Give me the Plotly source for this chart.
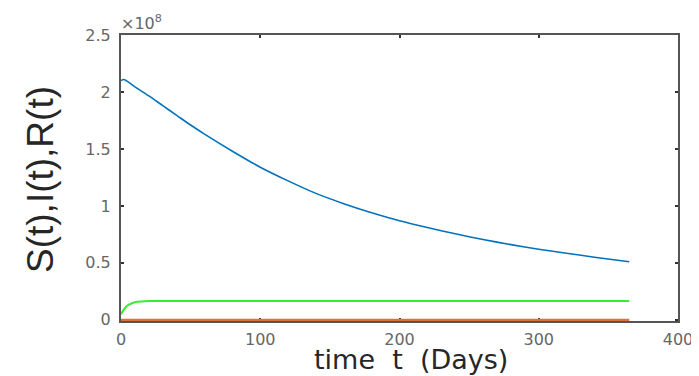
import plotly.graph_objects as go

# Data (values in persons)
t_S = [0, 2, 10, 20, 30, 40, 50, 60, 80, 100, 120, 140, 160, 180, 200, 220, 240, 260, 280, 300, 320, 340, 365]
S_vals = [2.10e8, 2.11e8, 2.045e8, 1.965e8, 1.88e8, 1.795e8, 1.71e8, 1.63e8, 1.48e8, 1.34e8, 1.22e8,
          1.11e8, 1.02e8, 0.94e8, 0.87e8, 0.81e8, 0.755e8, 0.705e8, 0.66e8, 0.62e8, 0.585e8, 0.55e8, 0.51e8]
t_I = [0, 2, 4, 6, 10, 15, 20, 30, 60, 100, 200, 300, 365]
I_vals = [0.05e8, 0.09e8, 0.12e8, 0.135e8, 0.155e8, 0.162e8, 0.165e8, 0.166e8,
          0.166e8, 0.166e8, 0.166e8, 0.166e8, 0.166e8]
t_R = [0, 100, 200, 300, 365]
R_vals = [0, 0, 0, 0, 0]

x_ticks = [0, 100, 200, 300, 400]
y_ticks = [0, 0.5e8, 1e8, 1.5e8, 2e8, 2.5e8]
y_ticktext = ["0", "0.5", "1", "1.5", "2", "2.5"]

# page body has an 8px margin; plot area target on screen: x 121..678, y 35..320
OFF = 8
L, R, T, B = 121, 678, 35, 321
W, H = 699 - OFF, 376 - OFF

def px(x):
    return (x - L) / (R - L)

def py(y):
    return (B - y) / (B - T)

fig = go.Figure()
fig.add_trace(go.Scatter(x=t_S, y=S_vals, mode="lines", cliponaxis=False,
                         line=dict(color="#0072BD", width=1.6, shape="spline", smoothing=0.8)))
fig.add_trace(go.Scatter(x=t_I, y=I_vals, mode="lines", cliponaxis=False,
                         line=dict(color="#33F033", width=2, shape="spline", smoothing=0.8)))
fig.add_trace(go.Scatter(x=t_R, y=R_vals, mode="lines", cliponaxis=False,
                         line=dict(color="#E0703A", width=2.2)))

axis_common = dict(showgrid=False, zeroline=False, showline=True, linecolor="#555555", linewidth=2,
                   ticks="inside", ticklen=3, tickcolor="#333333", tickwidth=1.5, mirror="ticks",
                   layer="below traces", automargin=False,
                   tickfont=dict(family="DejaVu Sans", size=16, color="#666666"))

fig.update_layout(
    width=W, height=H,
    margin=dict(l=L - OFF, r=W - (R - OFF), t=T - OFF, b=H - (B - OFF)),
    plot_bgcolor="white", paper_bgcolor="white",
    showlegend=False,
    xaxis=dict(range=[0, 400], tickvals=x_ticks, ticklabelstandoff=3, **axis_common),
    yaxis=dict(range=[-0.01e8, 2.5e8], tickvals=y_ticks, ticktext=y_ticktext, ticklabelstandoff=5,
               **axis_common),
)
fig.add_annotation(x=0, y=1, xref="paper", yref="paper", xanchor="left", yanchor="bottom",
                   text="×10<sup>8</sup>", showarrow=False, xshift=-2, yshift=0,
                   font=dict(family="DejaVu Sans", size=16, color="#666666"))
# axis titles
fig.add_annotation(x=px(411), y=py(360), xref="paper", yref="paper",
                   xanchor="center", yanchor="middle", showarrow=False, borderpad=0,
                   text="time\u00a0\u00a0t\u00a0\u00a0(Days)",
                   font=dict(family="DejaVu Sans", size=27, color="#262626"))
fig.add_annotation(x=px(40), y=py(180), xref="paper", yref="paper",
                   xanchor="center", yanchor="middle", showarrow=False, textangle=-90,
                   text="S(t),I(t),R(t)",
                   font=dict(family="Liberation Sans", size=37, color="#262626"))

fig.write_html("out.html")
